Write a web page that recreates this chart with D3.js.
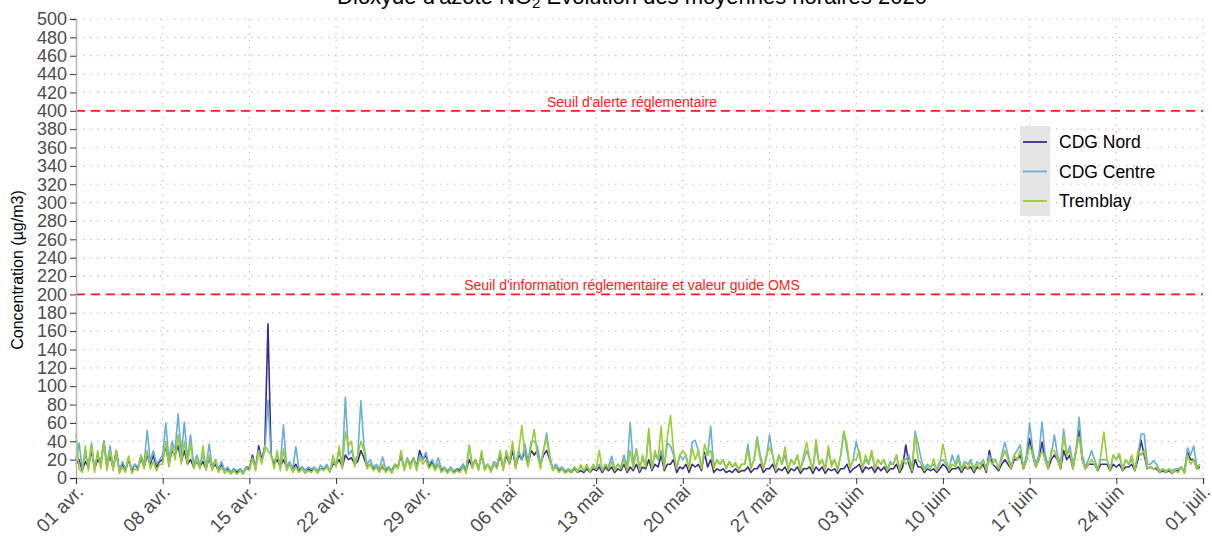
<!DOCTYPE html>
<meta charset="utf-8">
<style>
  body { margin: 0; background: #fff; }
  text { font-family: "Liberation Sans", Arial, sans-serif; }
</style>
<svg width="1212" height="540"></svg>
<script src="https://cdn.jsdelivr.net/npm/d3@7/dist/d3.min.js"></script>
<script>
// hourly NO2, kept every 6 h (00h, 06h, 12h, 18h), one line per week
var seriesNames = ["CDG Nord", "CDG Centre", "Tremblay"]
var seriesColors = ["#3d2b8c", "#6aaed6", "#9acd32"]

var cdgNord = [
  15,20,8,18, 12,30,10,20, 15,40,12,25, 10,30,8,15, 8,20,8,15, 10,22,12,25, 15,25,12,18,
  20,35,15,30, 25,35,18,30, 15,20,12,18, 12,18,10,22, 10,15,8,15, 8,10,6,10, 6,10,6,12,
  10,25,10,35, 20,35,168,25, 15,20,12,20, 12,15,10,15, 8,12,8,10, 8,10,8,10, 10,12,8,15,
  15,20,12,25, 20,22,15,18, 30,22,12,15, 10,12,8,12, 8,12,8,15, 12,25,10,20, 15,22,12,30,
  20,25,12,18, 10,15,8,10, 6,10,6,10, 8,15,8,20, 12,20,10,25, 10,15,8,15, 12,25,10,25,
  15,30,12,25, 20,30,15,30, 25,30,15,25, 30,20,10,12, 8,10,6,8, 6,10,6,8, 6,10,6,10,
  8,12,6,12, 8,12,6,10, 8,15,6,12, 8,15,6,12, 10,20,8,15, 12,25,8,15, 15,20,6,12,
  10,15,6,15, 12,15,8,28, 12,20,6,10, 8,10,6,8, 6,10,6,8, 8,12,6,10, 10,15,6,10,
  10,15,6,10, 8,12,5,10, 8,12,5,10, 10,12,5,12, 8,12,5,10, 8,10,5,10, 10,15,6,10,
  12,15,6,12, 10,12,6,12, 8,12,6,10, 10,15,6,12, 36,15,6,20, 12,12,6,10, 8,10,6,10,
  15,12,6,10, 10,12,6,12, 10,12,6,12, 10,15,6,30, 15,12,8,15, 20,15,10,20, 20,25,10,20,
  43,25,12,20, 39,20,10,20, 25,20,10,30, 20,25,10,30, 52,20,10,15, 15,15,8,15, 15,15,8,15,
  12,15,8,12, 12,15,8,20, 41,25,10,12, 10,10,6,8, 6,8,5,8, 8,12,6,28, 20,20,10,12
]

var cdgCentre = [
  20,38,10,25, 15,38,12,25, 18,40,15,35, 12,25,8,18, 10,22,10,15, 12,25,15,52, 18,30,15,20,
  25,60,20,40, 30,70,25,61, 20,47,15,25, 15,25,12,37, 12,20,10,18, 8,12,6,10, 8,10,6,12,
  12,20,12,30, 18,30,85,25, 18,25,15,58, 12,18,10,34, 10,12,8,12, 10,12,8,14, 10,15,8,18,
  15,30,15,88, 25,30,18,25, 84,35,15,20, 12,15,10,23, 10,12,8,12, 12,28,10,22, 15,20,12,25,
  20,28,15,20, 12,22,10,12, 8,12,8,10, 10,15,10,36, 15,18,10,25, 12,15,10,18, 15,28,12,28,
  18,35,15,30, 20,37,18,40, 40,35,15,30, 49,25,10,15, 10,12,8,10, 8,12,8,12, 8,12,8,12,
  10,15,8,15, 12,24,10,15, 12,25,12,60, 15,32,12,20, 15,50,12,25, 20,30,12,38, 35,25,10,25,
  20,25,10,39, 41,30,12,25, 25,56,12,20, 15,20,10,18, 12,15,10,15, 15,37,12,20, 45,25,10,22,
  47,25,10,25, 15,25,10,20, 15,25,10,20, 30,20,10,35, 15,20,10,30, 15,20,10,25, 51,30,12,20,
  40,25,12,20, 15,27,10,20, 15,20,10,18, 15,25,10,20, 20,25,10,51, 37,20,10,15, 12,15,10,18,
  20,15,10,25, 15,25,10,18, 15,20,10,18, 15,20,10,25, 20,20,10,25, 39,25,12,25, 30,36,12,25,
  60,30,15,25, 61,25,15,25, 47,25,15,53, 25,35,15,30, 66,25,12,20, 30,20,10,20, 20,20,10,25,
  20,25,10,20, 15,20,10,25, 48,48,15,15, 19,15,8,10, 8,10,8,10, 10,12,8,33, 25,35,12,15
]

var tremblay = [
  48,10,6,35, 8,36,6,30, 10,38,8,30, 8,30,5,12, 6,24,5,10, 8,25,10,30, 10,18,8,15,
  15,40,12,35, 20,47,15,40, 15,38,10,20, 10,35,8,25, 8,20,6,12, 5,8,4,8, 4,8,4,10,
  8,22,8,30, 15,35,30,25, 10,30,8,32, 8,15,6,12, 6,10,5,8, 6,10,5,10, 8,12,6,25,
  12,35,10,50, 35,40,12,25, 40,30,10,15, 8,12,6,15, 6,10,5,15, 10,30,8,20, 10,22,8,22,
  15,20,10,15, 8,15,6,10, 5,10,5,8, 6,12,5,35, 10,20,8,30, 8,15,6,15, 10,30,8,30,
  15,40,10,30, 57,25,12,35, 53,25,10,30, 44,20,8,12, 6,10,5,8, 6,12,6,15, 8,15,6,15,
  10,30,8,15, 10,18,8,15, 10,20,8,30, 10,31,8,25, 12,54,10,30, 20,56,10,45, 68,30,10,25,
  30,25,10,33, 20,30,10,37, 25,30,10,20, 15,20,10,18, 12,17,8,15, 15,30,10,20, 41,20,10,25,
  33,25,8,25, 15,34,8,20, 15,25,8,25, 39,20,8,42, 15,20,8,35, 12,20,8,25, 51,37,10,20,
  20,30,10,25, 15,30,10,20, 15,20,8,15, 15,25,8,20, 15,20,8,47, 20,15,8,12, 10,21,8,15,
  37,20,8,15, 12,20,8,15, 10,18,8,15, 10,20,8,20, 15,20,10,20, 30,20,10,25, 20,30,10,20,
  35,25,12,20, 30,20,10,30, 30,20,10,45, 25,30,10,30, 45,20,10,15, 20,15,8,25, 50,20,8,25,
  20,27,8,20, 15,25,8,30, 25,30,10,12, 10,12,6,10, 6,10,5,8, 6,12,5,25, 15,20,10,15
]

var tickLabels = ["01 avr.", "08 avr.", "15 avr.", "22 avr.", "29 avr.", "06 mai", "13 mai",
  "20 mai", "27 mai", "03 juin", "10 juin", "17 juin", "24 juin", "01 juil."]
var thresholds = [400, 200]
var thresholdLabels = ["Seuil d'alerte réglementaire", "Seuil d'information réglementaire et valeur guide OMS"]

var svg = d3.select('svg')
var start = new Date(2020, 3, 1)
var end = new Date(2020, 6, 1)
var stepHours = 6

var x = d3.scaleTime().domain([start, end]).range([76, 1203])
var y = d3.scaleLinear().domain([0, 500]).range([478, 19])

var tickDates = tickLabels.map(function (d, i) { return d3.timeDay.offset(start, i * 7) })

// grid
var grid = svg.append('g').attr('class', 'grid')
grid.selectAll('line.h')
  .data(d3.range(20, 501, 20))
  .enter().append('line')
  .attr('x1', 76).attr('x2', 1203)
  .attr('y1', function (d) { return y(d) }).attr('y2', function (d) { return y(d) })
grid.selectAll('line.v')
  .data(tickDates.slice(1))
  .enter().append('line')
  .attr('x1', function (d) { return x(d) }).attr('x2', function (d) { return x(d) })
  .attr('y1', 19).attr('y2', 478)
grid.selectAll('line')
  .attr('stroke', '#c4c4c4')
  .attr('stroke-width', 1.2)
  .attr('stroke-dasharray', '1.5,5.5')

// series
var line = d3.line()
  .x(function (d, i) { return x(d3.timeHour.offset(start, i * stepHours)) })
  .y(function (d) { return y(d) })

var allSeries = [cdgNord, cdgCentre, tremblay]
svg.append('g').selectAll('path')
  .data(allSeries)
  .enter().append('path')
  .attr('d', line)
  .attr('fill', 'none')
  .attr('stroke', function (d, i) { return seriesColors[i] })
  .attr('stroke-width', 1.6)
  .attr('stroke-linejoin', 'round')

// thresholds
thresholds.forEach(function (t, i) {
  svg.append('line')
    .attr('x1', 76).attr('x2', 1203)
    .attr('y1', y(t)).attr('y2', y(t))
    .attr('stroke', '#ff1a1a')
    .attr('stroke-width', 1.8)
    .attr('stroke-dasharray', '9,6')
  svg.append('text')
    .attr('x', 632).attr('y', y(t) - 4)
    .attr('text-anchor', 'middle')
    .attr('font-size', 14)
    .attr('fill', '#ff1a1a')
    .text(thresholdLabels[i])
})

// axes
var yAxis = svg.append('g')
  .attr('transform', 'translate(76,0)')
  .call(d3.axisLeft(y).tickValues(d3.range(0, 501, 20)).tickSize(6).tickPadding(3))
var xAxis = svg.append('g')
  .attr('transform', 'translate(0,478)')
  .call(d3.axisBottom(x).tickValues(tickDates).tickSize(6)
    .tickFormat(function (d, i) { return tickLabels[i] }))

svg.selectAll('.domain').attr('stroke', '#b3b3b3').attr('stroke-width', 1.5)
svg.selectAll('.tick line').attr('stroke', '#333')
yAxis.selectAll('text').attr('font-size', 18).attr('fill', '#4d4d4d')
  .attr('font-family', '"Liberation Sans", Arial, sans-serif')
xAxis.selectAll('text')
  .attr('font-size', 19).attr('fill', '#4d4d4d')
  .attr('font-family', '"Liberation Sans", Arial, sans-serif')
  .attr('text-anchor', 'end')
  .attr('transform', 'translate(-2,5) rotate(-45)')
  .attr('y', 0).attr('dy', '0.75em')

svg.append('text')
  .attr('transform', 'translate(23,270) rotate(-90)')
  .attr('text-anchor', 'middle')
  .attr('font-size', 16)
  .text('Concentration (µg/m3)')

// title (cut at the top of the picture)
var title = svg.append('text')
  .attr('x', 632).attr('y', 4)
  .attr('text-anchor', 'middle')
  .attr('font-size', 22)
title.append('tspan').text("Dioxyde d'azote NO")
title.append('tspan').attr('font-size', 15).attr('dy', 4).text('2')
title.append('tspan').attr('dy', -4).text(' Evolution des moyennes horaires 2020')

// legend
var legend = svg.append('g')
legend.append('rect')
  .attr('x', 1020).attr('y', 126).attr('width', 30).attr('height', 90)
  .attr('fill', '#e5e5e5')
var items = legend.selectAll('g.item')
  .data(seriesNames)
  .enter().append('g')
  .attr('transform', function (d, i) { return 'translate(0,' + (142 + i * 29.5) + ')' })
items.append('line')
  .attr('x1', 1023).attr('x2', 1047)
  .attr('stroke', function (d, i) { return seriesColors[i] })
  .attr('stroke-width', 1.8)
items.append('text')
  .attr('x', 1059).attr('dy', '0.35em')
  .attr('font-size', 17.5)
  .text(function (d) { return d })
</script>
